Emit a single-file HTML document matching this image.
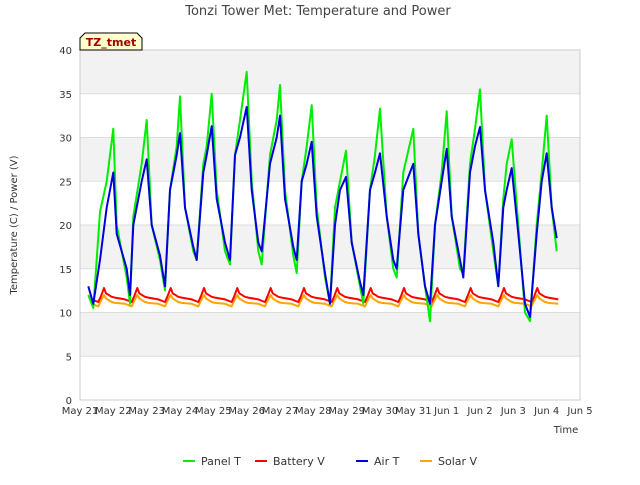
<!DOCTYPE html>
<html><head><meta charset="utf-8"><style>
body{margin:0;background:#fff;font-family:"Liberation Sans","DejaVu Sans",sans-serif}
</style></head><body>
<svg id="c" width="640" height="480" xmlns="http://www.w3.org/2000/svg" font-family="DejaVu Sans, Liberation Sans, sans-serif">
<rect width="640" height="480" fill="#fff"/>
<g id="bands"></g>
<g id="grid"></g>
<g id="series"></g>
<rect x="80" y="50" width="500" height="350" fill="none" stroke="#ccc"/>
<g id="axes" font-size="10" fill="#333"></g>
<text x="318" y="15" text-anchor="middle" font-size="13" fill="#444">Tonzi Tower Met: Temperature and Power</text>
<text x="566" y="433" text-anchor="middle" font-size="10" fill="#333">Time</text>
<text transform="translate(17,225) rotate(-90)" text-anchor="middle" font-size="10" fill="#333">Temperature (C) / Power (V)</text>
<g>
<path d="M80,50 L80,38 L85,33 L137,33 L142,38 L142,50 Z" fill="#ffffcc" stroke="#000"/>
<text x="111" y="46" text-anchor="middle" font-size="11" font-weight="bold" fill="#a00000">TZ_tmet</text>
</g>
<g id="legend" font-size="11" fill="#333"></g>
</svg>
<script>
const xTicks=["May 21","May 22","May 23","May 24","May 25","May 26","May 27","May 28","May 29","May 30","May 31","Jun 1","Jun 2","Jun 3","Jun 4","Jun 5"];
const yTicks=[0,5,10,15,20,25,30,35,40];
const tempTimes=[0.25,0.4,0.6,0.8,1.0,1.1,1.4,1.5,1.6,1.85,2.0,2.15,2.4,2.55,2.7,2.9,3.0,3.15,3.4,3.5,3.7,3.8,3.95,4.1,4.35,4.5,4.65,4.8,5.0,5.15,5.35,5.45,5.7,5.9,6.0,6.15,6.4,6.5,6.65,6.8,6.95,7.1,7.35,7.5,7.65,7.8,7.98,8.15,8.4,8.5,8.7,8.85,9.0,9.2,9.4,9.5,9.7,9.85,10.0,10.15,10.35,10.5,10.65,10.85,11.0,11.15,11.4,11.5,11.7,11.85,12.0,12.15,12.4,12.55,12.7,12.8,12.95,13.15,13.35,13.5,13.7,13.85,14.0,14.15,14.3];
const panelT=[12,10.5,21.5,25,31,20,14,11,21,27,32,20,16,12.5,24,29,34.7,22,17,16,27,29,35,24,17,15.5,28,32,37.5,25,17,15.5,28,32,36,24,16.5,14.5,25,29,33.7,22,14,11,22,25,28.5,18,13,11,24,28,33.3,21,15,14,26,28.5,31,19,13,9,20,26,33,21,15,14.5,27,31,35.5,24,17,13,23,27,29.8,20,10,9,20,26,32.5,22,17];
const airT=[13,11,16,22,26,19,15,12,20,25,27.5,20,16.5,13,24,28,30.5,22,17.5,16,26,28,31.3,23,18,16,28,30,33.5,24,18,17,27,30,32.5,23,17.5,16,25,27,29.5,21,14.5,11,20,24,25.5,18,13.5,12,24,26,28.2,21,16,15,24,25.5,27,19,13,11,20,25,28.7,21,16,14,26,29,31.2,24,18,13,22,24,26.5,19,11,9.5,19,25,28.2,22,18.5];
const days=[0,1,2,3,4,5,6,7,8,9,10,11,12,13,14];
const dayShape=[0.05,0.35,0.55,0.62,0.72,0.78,0.95];
const battShape=[11.7,11.5,11.2,11.8,12.8,12.2,11.8];
const solarShape=[11.1,11.0,10.7,11.3,12.0,11.6,11.2];
const NS="http://www.w3.org/2000/svg";
const X=t=>80+t*500/15, Y=v=>400-v*350/40;
function mk(tag,attrs,parent){const e=document.createElementNS(NS,tag);for(const k in attrs)e.setAttribute(k,attrs[k]);parent.appendChild(e);return e;}
const bands=document.getElementById('bands'),grid=document.getElementById('grid'),axes=document.getElementById('axes'),ser=document.getElementById('series'),leg=document.getElementById('legend');
for(let i=0;i<yTicks.length-1;i+=2){const r=mk('rect',{x:80,y:Y(yTicks[i+1]+5),width:500,height:Y(yTicks[i+1])-Y(yTicks[i+1]+5),fill:'#f2f2f2'},bands);}
yTicks.forEach(v=>{const l=mk('line',{x1:80,x2:580,y1:Y(v),y2:Y(v),stroke:'#ddd'},grid);
const t=mk('text',{x:72,y:Y(v)+4,'text-anchor':'end'},axes);t.textContent=v;});
xTicks.forEach((s,i)=>{const t=mk('text',{x:X(i),y:414,'text-anchor':'middle'},axes);t.textContent=s;});
function line(ts,vs,col,name){const d=ts.map((t,i)=>(i?'L':'M')+X(t).toFixed(1)+','+Y(vs[i]).toFixed(1)).join('');const p=mk('path',{d:d,fill:'none',stroke:col,'stroke-width':2,'stroke-linejoin':'round'},ser);}
function volt(shape){const ts=[],vs=[];days.forEach(d=>dayShape.forEach((f,i)=>{const t=d+f;if(t>=0.25&&t<=14.35){ts.push(t);vs.push(shape[i]);}}));return [ts,vs];}
const sv=volt(solarShape),bv=volt(battShape);
line(sv[0],sv[1],'#ffa500','solar-v-line');
line(bv[0],bv[1],'#ff0000','battery-v-line');
line(tempTimes,panelT,'#00ee00','panel-t-line');
line(tempTimes,airT,'#0000dd','air-t-line');
[["Panel T","#00ee00",183],["Battery V","#ff0000",255],["Air T","#0000dd",356],["Solar V","#ffa500",420]].forEach(([n,c,x])=>{const g=mk('g',{},leg);
mk('line',{x1:x,x2:x+12,y1:461,y2:461,stroke:c,'stroke-width':2},g);const t=mk('text',{x:x+18,y:465},g);t.textContent=n;});
</script>
</body></html>
